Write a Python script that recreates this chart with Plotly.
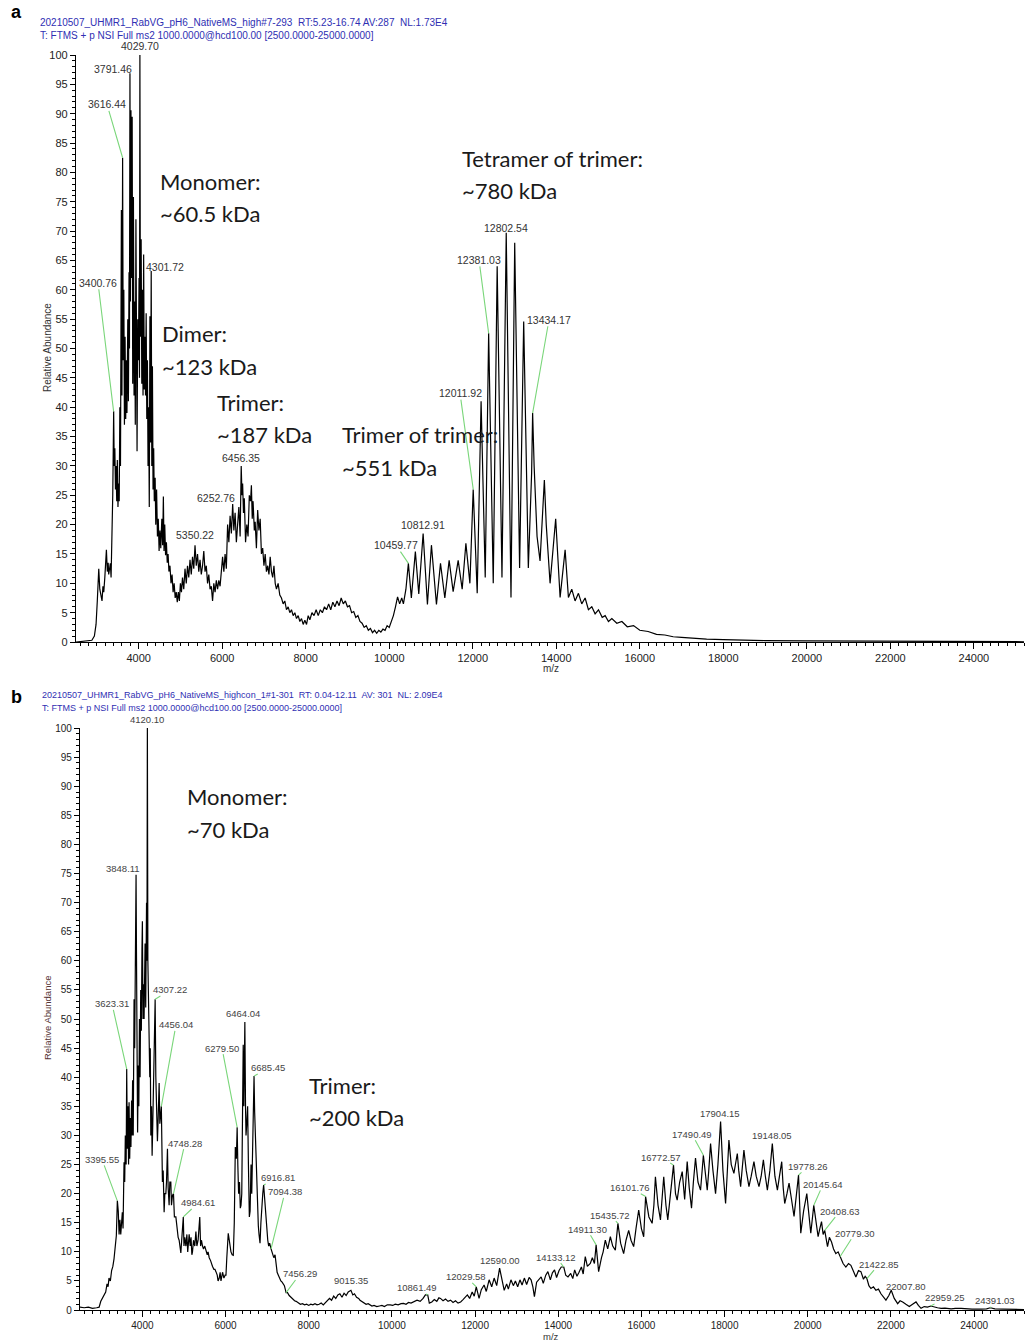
import plotly.graph_objects as go

# ---------------- Panel a spectrum (m/z, relative abundance) ----------------
a_mz = [2500, 2600, 2700, 2800, 2880, 2940, 2980, 3010, 3030, 3045, 3070, 3100, 3123, 3145, 3165, 3190, 3210, 3228, 3250, 3270,
        3283, 3300, 3323, 3340, 3362, 3380, 3402, 3415, 3430, 3445, 3460, 3475, 3490, 3505, 3520, 3535, 3550, 3565, 3587, 3600,
        3616, 3630, 3645, 3660, 3675, 3690, 3705, 3720, 3740, 3755, 3770, 3780, 3792, 3803, 3816, 3830, 3845, 3858, 3875, 3890,
        3905, 3920, 3935, 3950, 3962, 3978, 3995, 4010, 4020, 4030, 4042, 4060, 4075, 4090, 4105, 4120, 4135, 4150, 4165, 4180,
        4195, 4210, 4225, 4240, 4255, 4270, 4285, 4301, 4315, 4330, 4345, 4360, 4375, 4395, 4410, 4430, 4450, 4470, 4490, 4510,
        4530, 4555, 4575, 4592, 4608, 4625, 4645, 4665, 4685, 4705, 4725, 4750, 4775, 4800, 4825, 4850, 4875, 4900, 4925, 4950,
        4975, 5000, 5025, 5050, 5080, 5110, 5140, 5170, 5200, 5230, 5260, 5290, 5320, 5350, 5380, 5410, 5440, 5470, 5500, 5530,
        5560, 5590, 5620, 5650, 5680, 5710, 5740, 5770, 5800, 5830, 5860, 5890, 5920, 5950, 5980, 6010, 6040, 6070, 6100, 6130,
        6160, 6190, 6220, 6252, 6280, 6310, 6340, 6370, 6400, 6430, 6456, 6475, 6490, 6510, 6530, 6560, 6590, 6620, 6650, 6680,
        6700, 6720, 6740, 6770, 6790, 6820, 6850, 6880, 6910, 6940, 6970, 7000, 7030, 7060, 7090, 7120, 7150, 7180, 7210, 7240,
        7270, 7300, 7340, 7380, 7420, 7460, 7500, 7540, 7580, 7620, 7660, 7700, 7740, 7780, 7820, 7860, 7900, 7940, 7980, 8020,
        8060, 8100, 8150, 8200, 8250, 8300, 8350, 8400, 8450, 8500, 8550, 8600, 8650, 8700, 8750, 8800, 8850, 8900, 8950, 9000,
        9050, 9100, 9150, 9200, 9250, 9300, 9350, 9400, 9450, 9500, 9550, 9600, 9650, 9700, 9750, 9800, 9850, 9900, 9950, 10000,
        10050, 10100, 10150, 10200, 10250, 10300, 10340, 10400, 10459, 10530, 10626, 10708, 10812, 10915, 11011, 11131, 11228, 11332, 11435, 11531,
        11651, 11747, 11836, 11932, 12011, 12107, 12200, 12299, 12381, 12491, 12585, 12700, 12802, 12916, 13005, 13122, 13220, 13331, 13410, 13434,
        13470, 13540, 13612, 13680, 13715, 13760, 13852, 13986, 14092, 14212, 14291, 14371, 14450, 14531, 14610, 14691, 14770, 14851, 14930, 15011,
        15100, 15171, 15250, 15331, 15450, 15571, 15700, 15850, 16000, 16200, 16400, 16600, 16800, 17000, 17300, 17600, 18000, 18500, 19000, 20000,
        21000, 22000, 23000, 24000, 25200]
a_int = [0, 0.1, 0.1, 0.2, 0.3, 1, 3, 7, 10, 12.5, 9, 8, 7, 9.5, 8.5, 11, 13, 15.7, 12, 13.5,
         11.5, 12.5, 13.4, 11, 17.4, 25, 39.3, 30, 33, 26, 30, 24, 31, 23, 27, 24, 40, 30, 73.6, 42,
         82.5, 48, 60, 37, 52, 38, 48, 39, 55, 41, 63, 50, 96.9, 58, 90.6, 62, 89.5, 44, 75.8, 42,
         58, 37, 72, 40, 32.5, 55, 48, 62, 45, 100, 52, 68.6, 44, 60, 42, 66, 43, 52, 42, 56,
         38, 48, 30, 40, 23, 55.5, 34, 63.2, 30, 47, 26, 33, 24, 28, 20, 26, 18, 21, 15.5, 19,
         16, 21, 16.5, 24.8, 15.5, 20, 14.8, 17, 13.5, 15, 12, 13, 10, 11.5, 8.5, 10, 7.5, 8.5, 6.8, 8.5,
         7, 10, 8.5, 11, 9, 12.5, 10, 13, 11, 14, 11.5, 14.5, 12.5, 16.5, 13, 15, 12, 14, 11.5, 13,
         15.5, 12, 13, 10, 11.5, 9, 9.5, 7, 10, 8.5, 10.5, 9, 10.5, 9.5, 13, 14.5, 12, 15, 12.5, 20,
         17, 21.5, 18.5, 23.5, 19, 22, 17, 20, 23, 18, 30, 25, 27, 22, 24.5, 17, 20, 18, 25, 24,
         26.7, 21, 24, 19, 20.5, 16, 22.5, 19, 21, 15, 16, 13, 15, 12, 13, 11.5, 14.5, 12, 11, 13,
         10, 9, 10, 8, 7.5, 6.5, 7, 5.5, 6, 5, 5.5, 4.5, 5, 4, 4.5, 3.5, 4, 3, 3.7, 3,
         4.5, 3.8, 5, 4.5, 5.5, 4.5, 5.5, 5, 6, 5.5, 6.5, 5.5, 6.8, 6, 7, 6.2, 7.5, 6.5, 7, 6,
         6.2, 5, 5.2, 4.2, 4.5, 3.5, 3.2, 2.5, 2.8, 2, 2.3, 1.6, 2, 1.5, 2, 1.7, 2.2, 2, 2.8, 2.5,
         3.5, 4.5, 6, 7.7, 6.5, 7.5, 6.5, 9, 13.4, 7.5, 15.4, 8.2, 18.5, 6.4, 16.5, 6.4, 13.4, 7.5, 13.9, 8.6,
         13.9, 9, 16.8, 10, 26, 8.3, 41, 11, 52.6, 10, 64, 11, 69.7, 7.6, 68, 12.6, 54.6, 12.6, 28.8, 39,
         30, 18, 13.8, 24, 27.6, 20, 10, 21, 7.6, 15.7, 7.6, 9, 7, 8.3, 6.5, 7.5, 5.5, 6, 4.8, 5.5,
         4.2, 4.5, 3.5, 4, 3.2, 3.5, 2.6, 2.8, 2, 1.8, 1.3, 1.2, 0.9, 0.8, 0.6, 0.5, 0.4, 0.3, 0.25, 0.2,
         0.15, 0.1, 0.1, 0.05, 0.05]

# ---------------- Panel b spectrum ----------------
b_mz = [2500, 2600, 2700, 2800, 2900, 2960, 3000, 3040, 3080, 3118, 3150, 3175, 3197, 3230, 3260, 3290, 3318, 3345, 3374, 3398,
        3420, 3440, 3460, 3480, 3500, 3518, 3535, 3559, 3575, 3590, 3610, 3623, 3639, 3655, 3668, 3680, 3695, 3710, 3725, 3740,
        3750, 3765, 3780, 3800, 3815, 3830, 3848, 3858, 3870, 3885, 3900, 3915, 3930, 3945, 3960, 3975, 3990, 4000, 4015, 4030,
        4041, 4065, 4080, 4100, 4110, 4120, 4132, 4145, 4160, 4178, 4190, 4203, 4220, 4234, 4250, 4265, 4282, 4307, 4323, 4340,
        4362, 4380, 4403, 4420, 4443, 4456, 4470, 4482, 4500, 4523, 4540, 4564, 4580, 4603, 4620, 4643, 4660, 4684, 4700, 4723,
        4748, 4770, 4805, 4830, 4860, 4884, 4905, 4925, 4945, 4964, 4984, 5000, 5020, 5046, 5070, 5090, 5110, 5125, 5150, 5170,
        5190, 5205, 5230, 5260, 5287, 5310, 5340, 5367, 5380, 5400, 5420, 5446, 5470, 5500, 5528, 5560, 5580, 5607, 5640, 5660,
        5687, 5720, 5745, 5769, 5800, 5820, 5848, 5870, 5890, 5928, 5960, 5990, 6010, 6030, 6050, 6065, 6090, 6110, 6130, 6160,
        6186, 6210, 6235, 6260, 6279, 6295, 6314, 6335, 6355, 6371, 6390, 6410, 6425, 6440, 6464, 6480, 6492, 6510, 6531, 6550,
        6572, 6590, 6613, 6630, 6650, 6668, 6685, 6700, 6715, 6733, 6755, 6770, 6788, 6805, 6829, 6850, 6870, 6895, 6916, 6940,
        6960, 6974, 6995, 7015, 7037, 7060, 7094, 7115, 7133, 7160, 7190, 7215, 7240, 7270, 7294, 7330, 7360, 7390, 7415, 7456,
        7490, 7530, 7570, 7615, 7660, 7697, 7750, 7800, 7850, 7900, 7950, 8000, 8050, 8100, 8150, 8200, 8250, 8300, 8350, 8400,
        8450, 8500, 8550, 8600, 8650, 8700, 8749, 8800, 8850, 8900, 8950, 9015, 9060, 9100, 9150, 9200, 9233, 9280, 9330, 9380,
        9430, 9475, 9520, 9570, 9637, 9700, 9760, 9820, 9890, 9959, 10020, 10080, 10150, 10220, 10281, 10340, 10400, 10460, 10530, 10605,
        10680, 10750, 10806, 10861, 10900, 10960, 11020, 11080, 11130, 11169, 11230, 11290, 11350, 11411, 11470, 11530, 11590, 11653, 11710, 11760,
        11815, 11870, 11930, 11980, 12029, 12096, 12150, 12217, 12270, 12338, 12400, 12459, 12520, 12590, 12650, 12701, 12760, 12800, 12863, 12920,
        12970, 13025, 13080, 13130, 13185, 13240, 13300, 13347, 13390, 13427, 13480, 13530, 13589, 13640, 13700, 13751, 13810, 13860, 13911, 13960,
        14020, 14073, 14133, 14180, 14235, 14300, 14350, 14395, 14450, 14500, 14557, 14600, 14650, 14700, 14771, 14820, 14870, 14911, 14971, 15040,
        15080, 15132, 15190, 15253, 15310, 15373, 15435, 15500, 15573, 15630, 15694, 15750, 15814, 15870, 15935, 16000, 16055, 16101, 16180, 16258,
        16300, 16337, 16400, 16458, 16500, 16537, 16590, 16634, 16700, 16772, 16820, 16860, 16920, 16981, 17040, 17101, 17150, 17205, 17250, 17301,
        17360, 17422, 17490, 17540, 17583, 17620, 17663, 17720, 17783, 17840, 17904, 17960, 18024, 18060, 18104, 18160, 18224, 18260, 18306, 18340,
        18386, 18420, 18465, 18520, 18586, 18640, 18706, 18760, 18827, 18880, 18933, 18980, 19029, 19090, 19148, 19210, 19270, 19320, 19374, 19410,
        19446, 19500, 19550, 19610, 19670, 19730, 19778, 19832, 19900, 19977, 20030, 20073, 20145, 20200, 20249, 20290, 20331, 20370, 20408, 20475,
        20520, 20572, 20620, 20675, 20730, 20779, 20850, 20916, 20980, 21037, 21100, 21157, 21220, 21278, 21340, 21380, 21422, 21470, 21519, 21580,
        21639, 21700, 21760, 21820, 21880, 21950, 22007, 22080, 22162, 22220, 22283, 22360, 22442, 22520, 22603, 22660, 22724, 22800, 22880, 22959,
        23050, 23120, 23206, 23300, 23447, 23550, 23688, 23800, 23950, 24170, 24300, 24391, 24500, 24700, 24900, 25200]
b_int = [0.5, 0.4, 0.5, 0.3, 0.4, 0.5, 1.5, 2, 2.5, 3.1, 4.5, 4, 5.5, 5, 6.8, 7.5, 8.8, 11, 12.8, 18.8,
         17, 13, 15.5, 13, 16.5, 16.8, 14, 25.4, 22, 30, 25, 41.4, 27.7, 35, 25, 35.7, 26, 33, 28, 36,
         30, 39.5, 30, 53.4, 45, 60, 74.8, 61.6, 45, 30.5, 42, 35, 50, 40, 55, 48, 62, 66.8, 50, 56,
         50, 63, 52, 70, 60, 100, 60, 54, 44, 40, 45, 30, 35, 26.5, 32, 40, 45, 53.4, 40.2, 35,
         29, 33, 39, 32, 34.5, 35, 28, 22, 24, 16.8, 20, 20, 22, 27.7, 21, 18, 22, 22, 18, 19.7,
         20, 16, 16, 14, 12.5, 12, 11, 9.8, 12, 15, 16, 11, 12.5, 11, 13, 10, 12.5, 13, 11, 12.5,
         9.5, 10, 12, 11, 13.5, 11, 12, 14.5, 16, 11, 12, 11, 10.5, 11, 10, 9.5, 10, 9, 8.5, 8,
         7.5, 7, 7, 6.6, 6, 5, 5.5, 6.5, 5, 6.5, 5.5, 6, 6, 9, 11, 13.2, 12, 11, 10, 9.5,
         9.4, 15, 28, 26, 31.4, 25, 20, 22, 17.5, 18, 20, 35, 45.6, 35, 49.5, 35, 30, 32, 35, 25,
         16, 17, 25, 20, 30, 38, 40.2, 34, 30, 27, 20, 16, 14.5, 13, 11.5, 15, 18, 20, 21.5, 19,
         17, 17, 14, 12, 11, 11.5, 10.5, 10, 9.5, 9, 9.5, 8, 6.5, 6, 5.5, 5, 4.8, 4.5, 4.2, 3,
         3, 2.5, 2.2, 2, 1.6, 1.5, 1.2, 1, 1.1, 0.9, 1, 0.8, 1, 0.9, 1.1, 0.9, 1, 1.2, 0.9, 1.3,
         1.6, 2, 1.7, 2.4, 2, 2.6, 2.8, 2.2, 2.9, 2.5, 3.1, 3.4, 2.6, 2.8, 2.2, 2, 1.7, 1.5, 1.2, 1,
         1.1, 0.86, 0.7, 0.8, 0.6, 0.7, 0.8, 0.6, 0.9, 0.9, 0.8, 1, 0.9, 1.1, 1.15, 1, 1.3, 1.2, 1.5, 1.7,
         1.5, 2, 2.6, 2.6, 1.2, 1.4, 1.8, 1.5, 2.1, 2, 1.6, 1.9, 1.5, 1.7, 1.3, 1.6, 1.2, 1.4, 1.8, 2.2,
         2.6, 2, 3.1, 2.4, 4, 2, 3.5, 4.3, 3.2, 5.2, 4, 5.5, 4.2, 7.2, 5, 3.4, 4.5, 3.6, 5.2, 4.2,
         5, 4, 5.2, 4.3, 5.5, 4.4, 5.6, 5.2, 4, 2.3, 4.8, 5.2, 5.7, 4.6, 6, 6.6, 5.2, 6.4, 6.9, 5.6,
         6.8, 7.4, 7.4, 6, 5.7, 6.3, 5.4, 6.9, 5.8, 6.5, 7.4, 6.2, 9.2, 7.5, 8, 9, 8, 11.2, 6.6, 9,
         10, 12, 10.5, 12.6, 11, 10.3, 14.9, 11.5, 9.7, 12, 13.7, 12, 10.9, 14, 17.2, 14, 12.6, 19.5, 16, 14.9,
         18, 22.9, 18, 15.5, 19, 22.9, 18, 15.5, 20, 24.9, 20, 18.9, 22, 23.8, 19, 25.5, 21, 17.5, 22, 26.1,
         22, 20.6, 26.6, 23, 20.6, 24, 28.6, 24, 20, 25, 32.4, 24, 18.3, 23, 29.2, 25, 23.5, 25, 26.9, 24,
         21.2, 24, 27.5, 24, 21.2, 23, 25.5, 23, 21.2, 23, 25.8, 23, 20.6, 24, 28.6, 23, 20.6, 23, 25.5, 21,
         18.3, 20, 21.8, 19, 16.1, 20, 23.2, 13.2, 17, 20, 16, 13.2, 18, 15, 12.6, 14, 15.2, 13, 13.7, 10.9,
         12.5, 11.7, 10.5, 9.7, 10, 9.2, 8, 7.4, 8, 7.7, 6.6, 5.7, 6.8, 6.6, 5.3, 5.8, 5.4, 4.2, 3.7, 4,
         3.4, 3.6, 2.8, 2.3, 1.7, 2.5, 3.4, 2, 1.1, 1.6, 1.4, 1, 0.6, 1, 1.4, 0.8, 0.3, 0.6, 0.5, 0.7,
         0.5, 0.4, 0.3, 0.35, 0.2, 0.3, 0.3, 0.2, 0.15, 0.15, 0.2, 0.4, 0.2, 0.15, 0.1, 0.1]

# ---------------- Peak labels ----------------
a_label_mz = [4029.70, 3791.46, 3616.44, 4301.72, 3400.76, 6456.35, 6252.76, 5350.22,
              12802.54, 12381.03, 13434.17, 12011.92, 10812.91, 10459.77]
a_label_int = [100, 96.9, 82.5, 63.2, 39.3, 30, 23.5, 16.5, 69.7, 52.6, 39, 26, 18.5, 13.4]
b_label_mz = [4120.10, 3848.11, 3623.31, 4307.22, 4456.04, 6464.04, 6279.50, 6685.45, 4748.28,
              3395.55, 6916.81, 7094.38, 4984.61, 7456.29, 9015.35, 10861.49, 12029.58, 12590.00,
              14133.12, 14911.30, 15435.72, 16101.76, 16772.57, 17490.49, 17904.15, 19148.05,
              19778.26, 20145.64, 20408.63, 20779.30, 21422.85, 22007.80, 22959.25, 24391.03]
b_label_int = [100, 74.8, 41.4, 53.4, 35, 49.5, 31.4, 40.2, 20, 18.8, 21.5, 10.5, 16, 3, 3.4, 2.6, 4,
               7.2, 7.4, 11.2, 14.9, 19.5, 24.9, 26.6, 32.4, 28.6, 23.2, 18, 13.7, 9.2, 5.4, 3.4, 0.7, 0.4]

# label text placement (data coords), leader line flag, extra pixel lift
a_label_place = [(4032, 100, False, 9), (3386, 97.6, True, 0), (3242, 91.6, True, 0), (4631, 63.9, True, 0),
                 (3027, 61.2, True, 0), (6451, 31.4, False, 0), (5852, 24.6, True, 0), (5349, 18.2, False, 0),
                 (12796, 70.6, False, 0), (12150, 65.1, True, 0), (13826, 54.9, True, 0), (11695, 42.4, True, 0),
                 (10809, 19.9, False, 0), (10163, 16.5, True, 0)]
b_label_place = [(4111, 100, False, 9), (3534, 75.8, True, 0), (3270, 52.6, True, 0), (4664, 55.0, True, 0),
                 (4808, 49.0, True, 0), (6420, 51.0, False, 0), (5915, 45.0, True, 0), (7021, 41.6, True, 0),
                 (5025, 28.7, True, 0), (3029, 25.9, True, 0), (7261, 22.7, True, 0), (7430, 20.3, True, 0),
                 (5337, 18.4, True, 0), (7790, 6.2, True, 0), (9017, 5.0, False, 0), (10604, 3.8, True, 0),
                 (11782, 5.7, True, 0), (12600, 8.6, False, 0), (13946, 9.1, True, 0), (14692, 13.9, True, 0),
                 (15245, 16.3, True, 0), (15726, 21.0, True, 0), (16471, 26.3, True, 0), (17216, 30.2, True, 0),
                 (17890, 33.8, False, 0), (19140, 30.0, False, 0), (20006, 24.7, True, 0), (20367, 21.6, True, 0),
                 (20775, 17.0, True, 0), (21136, 13.2, True, 0), (21713, 7.9, True, 0), (22363, 4.1, True, 0),
                 (23300, 2.1, True, 0), (24502, 1.6, True, 0)]

x_ticks = [4000, 6000, 8000, 10000, 12000, 14000, 16000, 18000, 20000, 22000, 24000]
y_ticks = list(range(0, 101, 5))

W, H = 1026, 1342
# small vertical correction for the capture pipeline (observed ~6 px offset, ~0.991 scale)
VOFF, VSCALE = 6.0, 0.991
def px(x):
    return x / W
def py(y):
    return 1 - ((y - VOFF) / VSCALE) / H

ARIAL = "Liberation Sans, Arial, sans-serif"
BIG = "Lato, Carlito, Calibri, sans-serif"
GREEN = "#7ad67a"

fig = go.Figure()
fig.add_trace(go.Scatter(x=a_mz, y=a_int, mode="lines", line=dict(color="black", width=1.2),
                         xaxis="x", yaxis="y", showlegend=False, hoverinfo="x+y"))
fig.add_trace(go.Scatter(x=b_mz, y=b_int, mode="lines", line=dict(color="black", width=1.2),
                         xaxis="x2", yaxis="y2", showlegend=False, hoverinfo="x+y"))

def xax(domain, anchor, fsize):
    return dict(domain=domain, anchor=anchor, range=[2500, 25200], tickmode="array", tickvals=x_ticks,
                ticktext=[str(v) for v in x_ticks], ticks="outside", ticklen=6, tickwidth=1,
                tickcolor="black", showline=True, linecolor="black", linewidth=1.2, showgrid=False,
                zeroline=False, tickfont=dict(family=ARIAL, size=fsize, color="#222"),
                minor=dict(dtick=200, tick0=0, ticks="outside", ticklen=3, tickcolor="black", showgrid=False))

def yax(domain, anchor, fsize):
    return dict(domain=domain, anchor=anchor, range=[0, 100], tickmode="array", tickvals=y_ticks,
                ticktext=[str(v) for v in y_ticks], ticks="outside", ticklen=5, tickwidth=1,
                tickcolor="black", showline=True, linecolor="black", linewidth=1.2, showgrid=False,
                zeroline=False, tickfont=dict(family=ARIAL, size=fsize, color="#222"),
                minor=dict(dtick=1, tick0=0, ticks="outside", ticklen=3, tickcolor="black", showgrid=False))

fig.update_layout(
    width=W, height=H, margin=dict(l=0, r=0, t=0, b=0),
    paper_bgcolor="white", plot_bgcolor="white",
    xaxis=xax([px(76), px(1024)], "y", 11),
    yaxis=yax([py(642), py(55)], "x", 11),
    xaxis2=xax([px(80), px(1024)], "y2", 10),
    yaxis2=yax([py(1310), py(728)], "x2", 10),
)

ann = []
def peak_labels(mzs, ints, places, xr, yr, fsize, color):
    for m, v, (tx, ty, arrow, lift) in zip(mzs, ints, places):
        txt = f"{m:.2f}"
        if arrow:
            ann.append(dict(x=m, y=v, xref=xr, yref=yr, ax=tx, ay=ty, axref=xr, ayref=yr, text=txt,
                            showarrow=True, arrowhead=0, arrowwidth=1.1, arrowcolor=GREEN, standoff=0,
                            font=dict(family=ARIAL, size=fsize, color=color), borderpad=0))
        else:
            ann.append(dict(x=tx, y=ty, xref=xr, yref=yr, text=txt, showarrow=False, yshift=lift,
                            font=dict(family=ARIAL, size=fsize, color=color), borderpad=0))

peak_labels(a_label_mz, a_label_int, a_label_place, "x", "y", 10.5, "#333")
peak_labels(b_label_mz, b_label_int, b_label_place, "x2", "y2", 9.5, "#444")

def ptext(x, y, text, size, color, family, xanchor="left", bold=False, angle=0):
    ann.append(dict(x=px(x), y=py(y), xref="paper", yref="paper", text=f"<b>{text}</b>" if bold else text,
                    showarrow=False, xanchor=xanchor, yanchor="middle", textangle=angle,
                    font=dict(family=family, size=size, color=color)))

# Panel letters and headers
ptext(9, 12, "a", 18, "black", ARIAL, bold=True)
ptext(38, 22, "20210507_UHMR1_RabVG_pH6_NativeMS_high#7-293  RT:5.23-16.74 AV:287  NL:1.73E4", 10, "#2f2fb3", ARIAL)
ptext(38, 35, "T: FTMS + p NSI Full ms2 1000.0000@hcd100.00 [2500.0000-25000.0000]", 10, "#2f2fb3", ARIAL)
ptext(9, 697, "b", 18, "black", ARIAL, bold=True)
ptext(40, 695, "20210507_UHMR1_RabVG_pH6_NativeMS_highcon_1#1-301  RT: 0.04-12.11  AV: 301  NL: 2.09E4", 9, "#2f2fb3", ARIAL)
ptext(40, 708, "T: FTMS + p NSI Full ms2 1000.0000@hcd100.00 [2500.0000-25000.0000]", 9, "#2f2fb3", ARIAL)

# Axis titles
ptext(47, 348, "Relative Abundance", 10, "#333", ARIAL, xanchor="center", angle=-90)
ptext(551, 668, "m/z", 10, "#333", ARIAL, xanchor="center")
ptext(47, 1018, "Relative Abundance", 9.5, "#553333", ARIAL, xanchor="center", angle=-90)
ptext(551, 1336, "m/z", 9.5, "#333", ARIAL, xanchor="center")

# Big species labels
big = [(158, 181, "Monomer:"), (158, 213, "~60.5 kDa"), (160, 333, "Dimer:"), (160, 366, "~123 kDa"),
       (215, 402, "Trimer:"), (215, 434, "~187 kDa"), (340, 434, "Trimer of trimer:"), (340, 467, "~551 kDa"),
       (460, 158, "Tetramer of trimer:"), (460, 190, "~780 kDa"),
       (185, 796, "Monomer:"), (185, 829, "~70 kDa"), (307, 1085, "Trimer:"), (307, 1117, "~200 kDa")]
for x, y, t in big:
    ptext(x, y, t, 22, "#1a1a1a", BIG)

fig.update_layout(annotations=ann)
page_fix = ("document.documentElement.style.margin='0px';document.body.style.margin='0px';"
            "document.body.style.padding='0px';document.body.style.overflow='hidden';"
            "document.documentElement.style.overflow='hidden';"
            "var gd=document.getElementById('{plot_id}');gd.style.position='absolute';"
            "gd.style.left='0px';gd.style.top='0px';")
fig.write_html("out.html", config={"displayModeBar": False}, post_script=page_fix)
